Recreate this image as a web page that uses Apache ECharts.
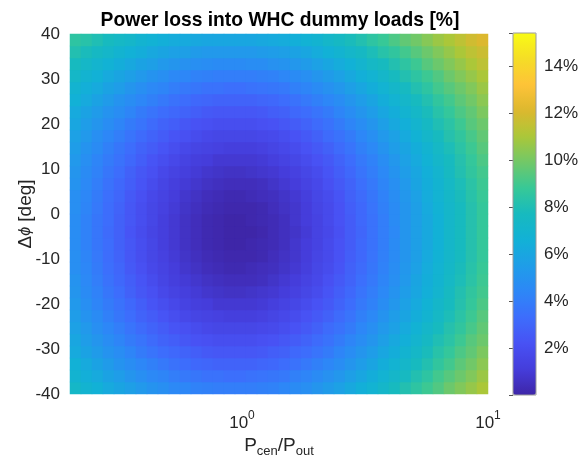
<!DOCTYPE html>
<html lang="en">

<head>
    <meta charset="UTF-8">
    <title>Power loss into WHC dummy loads</title>
    <script src="https://cdn.jsdelivr.net/npm/echarts@6/dist/echarts.min.js"></script>
</head>

<body style="margin: 0;">

    <div id="main" style="width: 582px;height: 459px;"></div>

    <script type="text/javascript">
        // P_cen/P_out at the centre of each cell column (log spaced, 0.2 .. 10)
        var ratioCells = [0.2106, 0.2334, 0.2587, 0.2868, 0.3178, 0.3523, 0.3905, 0.4329, 0.4798, 0.5318,
            0.5894, 0.6533, 0.7242, 0.8027, 0.8897, 0.9863, 1.0932, 1.2117, 1.3431, 1.4888,
            1.6502, 1.8291, 2.0277, 2.2475, 2.4912, 2.7614, 3.0607, 3.3926, 3.7606, 4.1685,
            4.6205, 5.1216, 5.6770, 6.2926, 6.9750, 7.7315, 8.5699, 9.4990];
        // delta phi [deg] at the centre of each cell row, bottom to top
        var phaseCells = [-38.67, -36, -33.33, -30.67, -28, -25.33, -22.67, -20, -17.33, -14.67,
            -12, -9.33, -6.67, -4, -1.33, 1.33, 4, 6.67, 9.33, 12,
            14.67, 17.33, 20, 22.67, 25.33, 28, 30.67, 33.33, 36, 38.67];
        // loss [%], one row per phase (bottom to top), ratio left to right
        var lossRows = [
            [7.3, 6.9, 6.6, 6.2, 5.9, 5.6, 5.3, 5.0, 4.8, 4.5, 4.4, 4.2, 4.1, 4.0, 4.0, 4.0, 4.0, 4.1, 4.2, 4.4, 4.6, 4.8, 5.1, 5.4, 5.7, 6.1, 6.5, 6.8, 7.2, 7.7, 8.1, 8.5, 8.9, 9.3, 9.8, 10.2, 10.6, 11.0],
            [6.9, 6.5, 6.2, 5.8, 5.5, 5.1, 4.8, 4.5, 4.3, 4.0, 3.8, 3.7, 3.5, 3.5, 3.4, 3.4, 3.5, 3.6, 3.7, 3.8, 4.1, 4.3, 4.6, 4.9, 5.2, 5.6, 6.0, 6.4, 6.8, 7.2, 7.6, 8.1, 8.5, 9.0, 9.4, 9.8, 10.2, 10.7],
            [6.6, 6.2, 5.8, 5.4, 5.0, 4.7, 4.4, 4.1, 3.8, 3.5, 3.3, 3.1, 3.0, 2.9, 2.9, 2.9, 2.9, 3.0, 3.1, 3.3, 3.5, 3.8, 4.1, 4.4, 4.7, 5.1, 5.5, 5.9, 6.4, 6.8, 7.2, 7.7, 8.1, 8.6, 9.0, 9.5, 9.9, 10.4],
            [6.2, 5.8, 5.4, 5.0, 4.7, 4.3, 3.9, 3.6, 3.3, 3.1, 2.9, 2.7, 2.5, 2.4, 2.4, 2.4, 2.4, 2.5, 2.7, 2.8, 3.1, 3.3, 3.6, 3.9, 4.3, 4.7, 5.1, 5.5, 6.0, 6.4, 6.9, 7.3, 7.8, 8.3, 8.7, 9.2, 9.6, 10.1],
            [6.0, 5.5, 5.1, 4.7, 4.3, 3.9, 3.6, 3.2, 2.9, 2.7, 2.4, 2.2, 2.1, 2.0, 2.0, 2.0, 2.0, 2.1, 2.2, 2.4, 2.6, 2.9, 3.2, 3.5, 3.9, 4.3, 4.7, 5.1, 5.6, 6.1, 6.5, 7.0, 7.5, 8.0, 8.4, 8.9, 9.4, 9.8],
            [5.7, 5.3, 4.8, 4.4, 4.0, 3.6, 3.2, 2.9, 2.6, 2.3, 2.1, 1.9, 1.7, 1.6, 1.6, 1.6, 1.6, 1.7, 1.8, 2.0, 2.2, 2.5, 2.8, 3.2, 3.5, 3.9, 4.4, 4.8, 5.3, 5.7, 6.2, 6.7, 7.2, 7.7, 8.2, 8.6, 9.1, 9.6],
            [5.5, 5.0, 4.6, 4.1, 3.7, 3.3, 2.9, 2.6, 2.3, 2.0, 1.7, 1.5, 1.4, 1.3, 1.2, 1.2, 1.2, 1.3, 1.5, 1.7, 1.9, 2.2, 2.5, 2.8, 3.2, 3.6, 4.1, 4.5, 5.0, 5.5, 5.9, 6.4, 6.9, 7.4, 7.9, 8.4, 8.9, 9.4],
            [5.3, 4.8, 4.3, 3.9, 3.5, 3.1, 2.7, 2.3, 2.0, 1.7, 1.4, 1.2, 1.1, 0.9, 0.9, 0.9, 0.9, 1.0, 1.2, 1.4, 1.6, 1.9, 2.2, 2.5, 2.9, 3.3, 3.8, 4.2, 4.7, 5.2, 5.7, 6.2, 6.7, 7.2, 7.7, 8.2, 8.7, 9.2],
            [5.1, 4.6, 4.2, 3.7, 3.3, 2.8, 2.4, 2.1, 1.7, 1.4, 1.2, 1.0, 0.8, 0.7, 0.6, 0.6, 0.7, 0.8, 0.9, 1.1, 1.3, 1.6, 1.9, 2.3, 2.7, 3.1, 3.6, 4.0, 4.5, 5.0, 5.5, 6.0, 6.5, 7.0, 7.6, 8.1, 8.6, 9.0],
            [5.0, 4.5, 4.0, 3.5, 3.1, 2.7, 2.3, 1.9, 1.5, 1.2, 1.0, 0.8, 0.6, 0.5, 0.4, 0.4, 0.4, 0.5, 0.7, 0.9, 1.1, 1.4, 1.7, 2.1, 2.5, 2.9, 3.4, 3.8, 4.3, 4.8, 5.3, 5.9, 6.4, 6.9, 7.4, 7.9, 8.4, 8.9],
            [4.8, 4.4, 3.9, 3.4, 3.0, 2.5, 2.1, 1.7, 1.4, 1.1, 0.8, 0.6, 0.4, 0.3, 0.2, 0.2, 0.3, 0.4, 0.5, 0.7, 0.9, 1.2, 1.6, 1.9, 2.3, 2.8, 3.2, 3.7, 4.2, 4.7, 5.2, 5.7, 6.3, 6.8, 7.3, 7.8, 8.3, 8.8],
            [4.8, 4.3, 3.8, 3.3, 2.9, 2.4, 2.0, 1.6, 1.3, 1.0, 0.7, 0.5, 0.3, 0.2, 0.1, 0.1, 0.1, 0.2, 0.4, 0.6, 0.8, 1.1, 1.5, 1.8, 2.2, 2.7, 3.1, 3.6, 4.1, 4.6, 5.1, 5.6, 6.2, 6.7, 7.2, 7.7, 8.2, 8.7],
            [4.7, 4.2, 3.7, 3.3, 2.8, 2.4, 2.0, 1.6, 1.2, 0.9, 0.6, 0.4, 0.2, 0.1, 0.0, 0.0, 0.1, 0.2, 0.3, 0.5, 0.8, 1.1, 1.4, 1.8, 2.2, 2.6, 3.1, 3.5, 4.0, 4.6, 5.1, 5.6, 6.1, 6.6, 7.2, 7.7, 8.2, 8.7],
            [4.7, 4.2, 3.7, 3.2, 2.8, 2.3, 1.9, 1.5, 1.2, 0.9, 0.6, 0.4, 0.2, 0.1, 0.0, 0.0, 0.0, 0.1, 0.3, 0.5, 0.7, 1.0, 1.4, 1.7, 2.1, 2.6, 3.0, 3.5, 4.0, 4.5, 5.1, 5.6, 6.1, 6.6, 7.2, 7.7, 8.2, 8.7],
            [4.7, 4.2, 3.7, 3.3, 2.8, 2.4, 2.0, 1.6, 1.2, 0.9, 0.6, 0.4, 0.2, 0.1, 0.0, 0.0, 0.1, 0.2, 0.3, 0.5, 0.8, 1.1, 1.4, 1.8, 2.2, 2.6, 3.1, 3.5, 4.0, 4.6, 5.1, 5.6, 6.1, 6.6, 7.2, 7.7, 8.2, 8.7],
            [4.8, 4.3, 3.8, 3.3, 2.9, 2.4, 2.0, 1.6, 1.3, 1.0, 0.7, 0.5, 0.3, 0.2, 0.1, 0.1, 0.1, 0.2, 0.4, 0.6, 0.8, 1.1, 1.5, 1.8, 2.2, 2.7, 3.1, 3.6, 4.1, 4.6, 5.1, 5.6, 6.2, 6.7, 7.2, 7.7, 8.2, 8.7],
            [4.8, 4.4, 3.9, 3.4, 3.0, 2.5, 2.1, 1.7, 1.4, 1.1, 0.8, 0.6, 0.4, 0.3, 0.2, 0.2, 0.3, 0.4, 0.5, 0.7, 0.9, 1.2, 1.6, 1.9, 2.3, 2.8, 3.2, 3.7, 4.2, 4.7, 5.2, 5.7, 6.3, 6.8, 7.3, 7.8, 8.3, 8.8],
            [5.0, 4.5, 4.0, 3.5, 3.1, 2.7, 2.3, 1.9, 1.5, 1.2, 1.0, 0.8, 0.6, 0.5, 0.4, 0.4, 0.4, 0.5, 0.7, 0.9, 1.1, 1.4, 1.7, 2.1, 2.5, 2.9, 3.4, 3.8, 4.3, 4.8, 5.3, 5.9, 6.4, 6.9, 7.4, 7.9, 8.4, 8.9],
            [5.1, 4.6, 4.2, 3.7, 3.3, 2.8, 2.4, 2.1, 1.7, 1.4, 1.2, 1.0, 0.8, 0.7, 0.6, 0.6, 0.7, 0.8, 0.9, 1.1, 1.3, 1.6, 1.9, 2.3, 2.7, 3.1, 3.6, 4.0, 4.5, 5.0, 5.5, 6.0, 6.5, 7.0, 7.6, 8.1, 8.6, 9.0],
            [5.3, 4.8, 4.3, 3.9, 3.5, 3.1, 2.7, 2.3, 2.0, 1.7, 1.4, 1.2, 1.1, 0.9, 0.9, 0.9, 0.9, 1.0, 1.2, 1.4, 1.6, 1.9, 2.2, 2.5, 2.9, 3.3, 3.8, 4.2, 4.7, 5.2, 5.7, 6.2, 6.7, 7.2, 7.7, 8.2, 8.7, 9.2],
            [5.5, 5.0, 4.6, 4.1, 3.7, 3.3, 2.9, 2.6, 2.3, 2.0, 1.7, 1.5, 1.4, 1.3, 1.2, 1.2, 1.2, 1.3, 1.5, 1.7, 1.9, 2.2, 2.5, 2.8, 3.2, 3.6, 4.1, 4.5, 5.0, 5.5, 5.9, 6.4, 6.9, 7.4, 7.9, 8.4, 8.9, 9.4],
            [5.7, 5.3, 4.8, 4.4, 4.0, 3.6, 3.2, 2.9, 2.6, 2.3, 2.1, 1.9, 1.7, 1.6, 1.6, 1.6, 1.6, 1.7, 1.8, 2.0, 2.2, 2.5, 2.8, 3.2, 3.5, 3.9, 4.4, 4.8, 5.3, 5.7, 6.2, 6.7, 7.2, 7.7, 8.2, 8.6, 9.1, 9.6],
            [6.0, 5.5, 5.1, 4.7, 4.3, 3.9, 3.6, 3.2, 2.9, 2.7, 2.4, 2.2, 2.1, 2.0, 2.0, 2.0, 2.0, 2.1, 2.2, 2.4, 2.6, 2.9, 3.2, 3.5, 3.9, 4.3, 4.7, 5.1, 5.6, 6.1, 6.5, 7.0, 7.5, 8.0, 8.4, 8.9, 9.4, 9.8],
            [6.2, 5.8, 5.4, 5.0, 4.7, 4.3, 3.9, 3.6, 3.3, 3.1, 2.9, 2.7, 2.5, 2.4, 2.4, 2.4, 2.4, 2.5, 2.7, 2.8, 3.1, 3.3, 3.6, 3.9, 4.3, 4.7, 5.1, 5.5, 6.0, 6.4, 6.9, 7.3, 7.8, 8.3, 8.7, 9.2, 9.6, 10.1],
            [6.6, 6.2, 5.8, 5.4, 5.0, 4.7, 4.4, 4.1, 3.8, 3.5, 3.3, 3.1, 3.0, 2.9, 2.9, 2.9, 2.9, 3.0, 3.1, 3.3, 3.5, 3.8, 4.1, 4.4, 4.7, 5.1, 5.5, 5.9, 6.4, 6.8, 7.2, 7.7, 8.1, 8.6, 9.0, 9.5, 9.9, 10.4],
            [6.9, 6.5, 6.2, 5.8, 5.5, 5.1, 4.8, 4.5, 4.3, 4.0, 3.8, 3.7, 3.5, 3.5, 3.4, 3.4, 3.5, 3.6, 3.7, 3.8, 4.1, 4.3, 4.6, 4.9, 5.2, 5.6, 6.0, 6.4, 6.8, 7.2, 7.6, 8.1, 8.5, 9.0, 9.4, 9.8, 10.2, 10.7],
            [7.3, 6.9, 6.6, 6.2, 5.9, 5.6, 5.3, 5.0, 4.8, 4.5, 4.4, 4.2, 4.1, 4.0, 4.0, 4.0, 4.0, 4.1, 4.2, 4.4, 4.6, 4.8, 5.1, 5.4, 5.7, 6.1, 6.5, 6.8, 7.2, 7.7, 8.1, 8.5, 8.9, 9.3, 9.8, 10.2, 10.6, 11.0],
            [7.7, 7.3, 7.0, 6.7, 6.4, 6.1, 5.8, 5.6, 5.3, 5.1, 4.9, 4.8, 4.7, 4.6, 4.6, 4.6, 4.7, 4.7, 4.9, 5.0, 5.2, 5.4, 5.7, 6.0, 6.3, 6.6, 7.0, 7.4, 7.7, 8.1, 8.5, 8.9, 9.4, 9.8, 10.2, 10.6, 11.0, 11.4],
            [8.1, 7.8, 7.5, 7.2, 6.9, 6.6, 6.4, 6.1, 5.9, 5.7, 5.6, 5.4, 5.3, 5.3, 5.3, 5.3, 5.3, 5.4, 5.5, 5.6, 5.8, 6.0, 6.3, 6.6, 6.9, 7.2, 7.5, 7.9, 8.3, 8.6, 9.0, 9.4, 9.8, 10.2, 10.6, 11.0, 11.4, 11.7],
            [8.5, 8.3, 8.0, 7.7, 7.4, 7.2, 6.9, 6.7, 6.5, 6.3, 6.2, 6.1, 6.0, 6.0, 6.0, 6.0, 6.0, 6.1, 6.2, 6.3, 6.5, 6.7, 6.9, 7.2, 7.5, 7.8, 8.1, 8.5, 8.8, 9.2, 9.6, 9.9, 10.3, 10.7, 11.0, 11.4, 11.8, 12.1]
        ];
        // colour bar
        var cbarMin = 0;
        var cbarMax = 15.4;
        var cbarTicks = [2, 4, 6, 8, 10, 12, 14];
        // parula colour stops
        var parula = ['#3e26a8', '#453ddb', '#4852f4', '#3d6dfc', '#2d87f7', '#1f9de8', '#12b1d6', '#17babf',
            '#37c897', '#71c868', '#abc739', '#dcb82e', '#fec338', '#f5dd26', '#f9fb15'];

        var cells = [];
        for (var j = 0; j < phaseCells.length; j++) {
            for (var i = 0; i < ratioCells.length; i++) {
                cells.push([i, j, lossRows[j][i]]);
            }
        }

        var ink = '#262626';
        var font = 'Liberation Sans, Arial, sans-serif';

        var myChart = echarts.init(document.getElementById('main'));
        var option = {
            animation: false,
            textStyle: { fontFamily: font },
            title: {
                text: 'Power loss into WHC dummy loads [%]',
                left: 280,
                top: 11,
                padding: 0,
                textAlign: 'center',
                textStyle: { fontSize: 19.3, fontWeight: 'bold', color: '#000', fontFamily: font }
            },
            grid: [
                { left: 70, top: 34, width: 418, height: 360, outerBoundsMode: 'none' },
                { left: 513, top: 33, width: 23, height: 362, show: true, z: 6, borderColor: '#9a9a9a', borderWidth: 1, backgroundColor: 'transparent', outerBoundsMode: 'none' }
            ],
            xAxis: [
                { type: 'category', gridIndex: 0, data: ratioCells, show: false },
                {
                    type: 'log', gridIndex: 0, min: 0.2, max: 10, logBase: 10, position: 'bottom',
                    axisLine: { show: false }, axisTick: { show: false }, splitLine: { show: false },
                    minorTick: { show: false },
                    axisLabel: {
                        margin: 16,
                        formatter: function (v) {
                            var e = Math.log10(v);
                            if (Math.abs(e - Math.round(e)) > 1e-6) return '';
                            return '{b|10}{s|' + Math.round(e) + '}';
                        },
                        rich: {
                            b: { fontSize: 17, color: ink, fontFamily: font },
                            s: { fontSize: 12, color: ink, fontFamily: font, padding: [0, 0, 14, 0] }
                        }
                    },
                    name: '{a|P}{s|cen}{a|/P}{s|out}',
                    nameLocation: 'middle',
                    nameGap: 39,
                    nameMoveOverlap: false,
                    nameTextStyle: {
                        rich: {
                            a: { fontSize: 19, color: ink, fontFamily: font },
                            s: { fontSize: 13, color: ink, fontFamily: font, padding: [12, 0, 0, 0] }
                        }
                    }
                },
                { type: 'value', gridIndex: 1, show: false, min: 0, max: 1 }
            ],
            yAxis: [
                { type: 'category', gridIndex: 0, data: phaseCells, show: false },
                {
                    type: 'value', gridIndex: 0, min: -40, max: 40, interval: 10, position: 'left',
                    axisLine: { show: false }, axisTick: { show: false }, splitLine: { show: false },
                    axisLabel: { fontSize: 17, color: ink, margin: 10 },
                    name: '{a|Δ}{i|ϕ}{a| [deg]}',
                    nameLocation: 'middle',
                    nameGap: 35,
                    nameRotate: 90,
                    nameMoveOverlap: false,
                    nameTextStyle: {
                        rich: {
                            a: { fontSize: 19, color: ink, fontFamily: font },
                            i: { fontSize: 16, color: ink, fontFamily: font, fontStyle: 'italic' }
                        }
                    }
                },
                {
                    type: 'value', gridIndex: 1, min: cbarMin, max: cbarMax, interval: 2, position: 'right',
                    axisLine: { show: false }, splitLine: { show: false },
                    axisTick: { show: true, inside: true, length: 4, lineStyle: { color: '#555' } },
                    axisLabel: {
                        fontSize: 17, color: ink, margin: 8,
                        formatter: function (v) {
                            return cbarTicks.indexOf(v) >= 0 ? v + '%' : '';
                        }
                    }
                }
            ],
            visualMap: {
                type: 'continuous',
                min: cbarMin,
                max: cbarMax,
                seriesIndex: 0,
                calculable: false,
                hoverLink: false,
                left: 513,
                top: 33,
                padding: 0,
                itemWidth: 23,
                itemHeight: 362,
                inRange: { color: parula }
            },
            series: [{
                type: 'heatmap',
                xAxisIndex: 0,
                yAxisIndex: 0,
                data: cells,
                progressive: 0,
                itemStyle: { borderWidth: 0 }
            }]
        };
        myChart.setOption(option);
    </script>
</body>

</html>
